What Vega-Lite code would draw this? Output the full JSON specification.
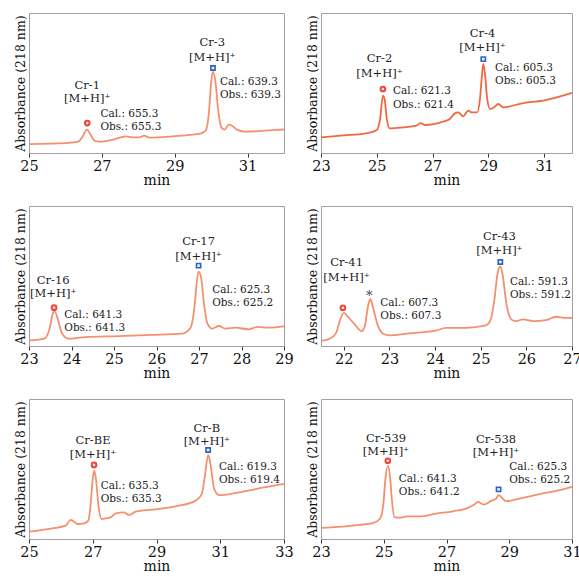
{
"$schema":"https://vega.github.io/schema/vega-lite/v6.json",
"padding":{"left":13,"top":12,"right":0,"bottom":0},
"background":"white",
"datasets":{"all":[
{"p":1,"k":"line","t":25.0,"a":6.4},{"p":1,"k":"line","t":26.03,"a":7.1},{"p":1,"k":"line","t":26.35,"a":8.1},{"p":1,"k":"line","t":26.46,"a":11.2},{"p":1,"k":"line","t":26.59,"a":16.7},{"p":1,"k":"line","t":26.68,"a":13.6},{"p":1,"k":"line","t":26.8,"a":8.8},{"p":1,"k":"line","t":26.94,"a":8.1},{"p":1,"k":"line","t":27.3,"a":9.5},{"p":1,"k":"line","t":27.66,"a":11.9},{"p":1,"k":"line","t":27.85,"a":11.2},{"p":1,"k":"line","t":28.03,"a":11.2},{"p":1,"k":"line","t":28.16,"a":12.4},{"p":1,"k":"line","t":28.3,"a":11.0},{"p":1,"k":"line","t":28.94,"a":11.9},{"p":1,"k":"line","t":29.66,"a":13.6},{"p":1,"k":"line","t":29.85,"a":16.0},{"p":1,"k":"line","t":29.94,"a":29.0},{"p":1,"k":"line","t":30.0,"a":50.5},{"p":1,"k":"line","t":30.05,"a":58.1},{"p":1,"k":"line","t":30.12,"a":50.5},{"p":1,"k":"line","t":30.19,"a":31.4},{"p":1,"k":"line","t":30.28,"a":18.3},{"p":1,"k":"line","t":30.37,"a":16.7},{"p":1,"k":"line","t":30.48,"a":20.2},{"p":1,"k":"line","t":30.57,"a":19.5},{"p":1,"k":"line","t":30.71,"a":16.7},{"p":1,"k":"line","t":30.94,"a":15.2},{"p":1,"k":"line","t":31.48,"a":16.0},{"p":1,"k":"line","t":32.0,"a":16.8},
{"p":1,"k":"circ","t":26.6,"a":21.4},{"p":1,"k":"sq","t":30.05,"a":60.7},
{"p":1,"k":"c","t":26.6,"a":48,"s":"Cr-1"},{"p":1,"k":"c","t":26.6,"a":38.6,"s":"[M+H]⁺"},{"p":1,"k":"l","t":26.96,"a":27.9,"s":"Cal.: 655.3"},{"p":1,"k":"l","t":26.96,"a":18.8,"s":"Obs.: 655.3"},
{"p":1,"k":"c","t":30.03,"a":78.5,"s":"Cr-3"},{"p":1,"k":"c","t":30.03,"a":67.9,"s":"[M+H]⁺"},{"p":1,"k":"l","t":30.24,"a":51,"s":"Cal.: 639.3"},{"p":1,"k":"l","t":30.24,"a":41.7,"s":"Obs.: 639.3"},

{"p":2,"k":"line","t":23.0,"a":11.2},{"p":2,"k":"line","t":24.02,"a":12.9},{"p":2,"k":"line","t":24.62,"a":14.0},{"p":2,"k":"line","t":25.0,"a":16.4},{"p":2,"k":"line","t":25.12,"a":24.3},{"p":2,"k":"line","t":25.22,"a":41.0},{"p":2,"k":"line","t":25.28,"a":38.6},{"p":2,"k":"line","t":25.36,"a":24.3},{"p":2,"k":"line","t":25.46,"a":17.6},{"p":2,"k":"line","t":25.94,"a":18.3},{"p":2,"k":"line","t":26.42,"a":19.5},{"p":2,"k":"line","t":26.57,"a":21.4},{"p":2,"k":"line","t":26.72,"a":20.0},{"p":2,"k":"line","t":27.38,"a":22.4},{"p":2,"k":"line","t":27.62,"a":24.3},{"p":2,"k":"line","t":27.8,"a":28.3},{"p":2,"k":"line","t":27.92,"a":29.0},{"p":2,"k":"line","t":28.1,"a":26.2},{"p":2,"k":"line","t":28.28,"a":30.2},{"p":2,"k":"line","t":28.4,"a":29.0},{"p":2,"k":"line","t":28.6,"a":29.0},{"p":2,"k":"line","t":28.7,"a":38.6},{"p":2,"k":"line","t":28.77,"a":55.2},{"p":2,"k":"line","t":28.82,"a":63.6},{"p":2,"k":"line","t":28.88,"a":56.4},{"p":2,"k":"line","t":28.96,"a":38.6},{"p":2,"k":"line","t":29.06,"a":31.4},{"p":2,"k":"line","t":29.2,"a":32.6},{"p":2,"k":"line","t":29.36,"a":35.0},{"p":2,"k":"line","t":29.53,"a":32.6},{"p":2,"k":"line","t":30.25,"a":35.7},{"p":2,"k":"line","t":30.97,"a":37.4},{"p":2,"k":"line","t":32.0,"a":42.9},
{"p":2,"k":"circ","t":25.22,"a":45.7},{"p":2,"k":"sq","t":28.82,"a":67.1},
{"p":2,"k":"c","t":25.1,"a":67,"s":"Cr-2"},{"p":2,"k":"c","t":25.1,"a":56.4,"s":"[M+H]⁺"},{"p":2,"k":"l","t":25.58,"a":44.5,"s":"Cal.: 621.3"},{"p":2,"k":"l","t":25.58,"a":34.3,"s":"Obs.: 621.4"},
{"p":2,"k":"c","t":28.79,"a":84.8,"s":"Cr-4"},{"p":2,"k":"c","t":28.79,"a":74.8,"s":"[M+H]⁺"},{"p":2,"k":"l","t":29.24,"a":60.5,"s":"Cal.: 605.3"},{"p":2,"k":"l","t":29.24,"a":51.7,"s":"Obs.: 605.3"},

{"p":3,"k":"line","t":23.0,"a":4.0},{"p":3,"k":"line","t":23.38,"a":5.5},{"p":3,"k":"line","t":23.48,"a":11.9},{"p":3,"k":"line","t":23.57,"a":23.8},{"p":3,"k":"line","t":23.61,"a":24.5},{"p":3,"k":"line","t":23.68,"a":19.0},{"p":3,"k":"line","t":23.77,"a":9.5},{"p":3,"k":"line","t":23.93,"a":5.2},{"p":3,"k":"line","t":24.32,"a":6.4},{"p":3,"k":"line","t":25.11,"a":7.1},{"p":3,"k":"line","t":25.89,"a":7.9},{"p":3,"k":"line","t":26.6,"a":8.8},{"p":3,"k":"line","t":26.8,"a":13.1},{"p":3,"k":"line","t":26.9,"a":29.8},{"p":3,"k":"line","t":26.95,"a":46.4},{"p":3,"k":"line","t":26.99,"a":53.1},{"p":3,"k":"line","t":27.05,"a":48.8},{"p":3,"k":"line","t":27.11,"a":32.1},{"p":3,"k":"line","t":27.19,"a":16.7},{"p":3,"k":"line","t":27.31,"a":12.4},{"p":3,"k":"line","t":27.47,"a":14.3},{"p":3,"k":"line","t":27.62,"a":12.4},{"p":3,"k":"line","t":27.86,"a":13.1},{"p":3,"k":"line","t":28.17,"a":11.9},{"p":3,"k":"line","t":28.37,"a":13.6},{"p":3,"k":"line","t":28.64,"a":13.1},{"p":3,"k":"line","t":29.0,"a":14.0},
{"p":3,"k":"circ","t":23.59,"a":27.4},{"p":3,"k":"sq","t":26.99,"a":57.4},
{"p":3,"k":"c","t":23.57,"a":46.5,"s":"Cr-16"},{"p":3,"k":"c","t":23.57,"a":36.9,"s":"[M+H]⁺"},{"p":3,"k":"l","t":23.83,"a":22.1,"s":"Cal.: 641.3"},{"p":3,"k":"l","t":23.83,"a":13.1,"s":"Obs.: 641.3"},
{"p":3,"k":"c","t":26.99,"a":74,"s":"Cr-17"},{"p":3,"k":"c","t":26.99,"a":63.6,"s":"[M+H]⁺"},{"p":3,"k":"l","t":27.31,"a":39.8,"s":"Cal.: 625.3"},{"p":3,"k":"l","t":27.31,"a":31.0,"s":"Obs.: 625.2"},

{"p":4,"k":"line","t":21.5,"a":3.6},{"p":4,"k":"line","t":21.73,"a":5.9},{"p":4,"k":"line","t":21.84,"a":10.0},{"p":4,"k":"line","t":21.91,"a":17.8},{"p":4,"k":"line","t":22.0,"a":23.7},{"p":4,"k":"line","t":22.09,"a":20.9},{"p":4,"k":"line","t":22.24,"a":15.4},{"p":4,"k":"line","t":22.39,"a":10.7},{"p":4,"k":"line","t":22.46,"a":14.2},{"p":4,"k":"line","t":22.53,"a":28.4},{"p":4,"k":"line","t":22.58,"a":33.6},{"p":4,"k":"line","t":22.64,"a":27.3},{"p":4,"k":"line","t":22.75,"a":14.2},{"p":4,"k":"line","t":22.86,"a":8.8},{"p":4,"k":"line","t":23.0,"a":7.6},{"p":4,"k":"line","t":23.44,"a":9.0},{"p":4,"k":"line","t":24.03,"a":11.1},{"p":4,"k":"line","t":24.24,"a":13.0},{"p":4,"k":"line","t":24.68,"a":13.0},{"p":4,"k":"line","t":25.11,"a":14.7},{"p":4,"k":"line","t":25.22,"a":19.0},{"p":4,"k":"line","t":25.3,"a":33.2},{"p":4,"k":"line","t":25.37,"a":52.1},{"p":4,"k":"line","t":25.43,"a":56.9},{"p":4,"k":"line","t":25.48,"a":50.9},{"p":4,"k":"line","t":25.56,"a":30.8},{"p":4,"k":"line","t":25.67,"a":19.0},{"p":4,"k":"line","t":25.78,"a":17.8},{"p":4,"k":"line","t":25.92,"a":19.0},{"p":4,"k":"line","t":26.14,"a":17.8},{"p":4,"k":"line","t":26.43,"a":18.5},{"p":4,"k":"line","t":26.65,"a":20.9},{"p":4,"k":"line","t":26.87,"a":20.1},{"p":4,"k":"line","t":27.0,"a":20.1},
{"p":4,"k":"circ","t":21.98,"a":27.3},{"p":4,"k":"sq","t":25.43,"a":60.0},{"p":4,"k":"star","t":22.56,"a":35.5,"s":"*"},
{"p":4,"k":"c","t":22.06,"a":59,"s":"Cr-41"},{"p":4,"k":"c","t":22.06,"a":48.6,"s":"[M+H]⁺"},{"p":4,"k":"l","t":22.8,"a":30.8,"s":"Cal.: 607.3"},{"p":4,"k":"l","t":22.8,"a":21.3,"s":"Obs.: 607.3"},
{"p":4,"k":"c","t":25.41,"a":78,"s":"Cr-43"},{"p":4,"k":"c","t":25.41,"a":68.2,"s":"[M+H]⁺"},{"p":4,"k":"l","t":25.64,"a":45.5,"s":"Cal.: 591.3"},{"p":4,"k":"l","t":25.64,"a":36.7,"s":"Obs.: 591.2"},

{"p":5,"k":"line","t":25.0,"a":5.2},{"p":5,"k":"line","t":25.73,"a":7.6},{"p":5,"k":"line","t":26.15,"a":9.5},{"p":5,"k":"line","t":26.31,"a":13.6},{"p":5,"k":"line","t":26.41,"a":12.4},{"p":5,"k":"line","t":26.52,"a":10.7},{"p":5,"k":"line","t":26.73,"a":11.2},{"p":5,"k":"line","t":26.86,"a":13.1},{"p":5,"k":"line","t":26.94,"a":26.2},{"p":5,"k":"line","t":26.99,"a":40.5},{"p":5,"k":"line","t":27.04,"a":48.8},{"p":5,"k":"line","t":27.1,"a":42.9},{"p":5,"k":"line","t":27.18,"a":23.8},{"p":5,"k":"line","t":27.27,"a":14.3},{"p":5,"k":"line","t":27.41,"a":14.8},{"p":5,"k":"line","t":27.56,"a":15.5},{"p":5,"k":"line","t":27.72,"a":18.3},{"p":5,"k":"line","t":27.98,"a":19.0},{"p":5,"k":"line","t":28.14,"a":17.1},{"p":5,"k":"line","t":28.35,"a":19.5},{"p":5,"k":"line","t":28.87,"a":21.0},{"p":5,"k":"line","t":29.6,"a":23.3},{"p":5,"k":"line","t":30.23,"a":27.4},{"p":5,"k":"line","t":30.42,"a":32.1},{"p":5,"k":"line","t":30.52,"a":45.2},{"p":5,"k":"line","t":30.62,"a":60.0},{"p":5,"k":"line","t":30.7,"a":52.4},{"p":5,"k":"line","t":30.81,"a":35.7},{"p":5,"k":"line","t":30.96,"a":31.4},{"p":5,"k":"line","t":31.49,"a":32.9},{"p":5,"k":"line","t":32.11,"a":35.7},{"p":5,"k":"line","t":33.0,"a":39.3},
{"p":5,"k":"circ","t":27.04,"a":52.9},{"p":5,"k":"sq","t":30.62,"a":63.6},
{"p":5,"k":"c","t":27.01,"a":69.8,"s":"Cr-BE"},{"p":5,"k":"c","t":27.01,"a":60.2,"s":"[M+H]⁺"},{"p":5,"k":"l","t":27.25,"a":37.6,"s":"Cal.: 635.3"},{"p":5,"k":"l","t":27.25,"a":28.6,"s":"Obs.: 635.3"},
{"p":5,"k":"c","t":30.58,"a":78.6,"s":"Cr-B"},{"p":5,"k":"c","t":30.58,"a":69.0,"s":"[M+H]⁺"},{"p":5,"k":"l","t":30.96,"a":51.2,"s":"Cal.: 619.3"},{"p":5,"k":"l","t":30.96,"a":42.2,"s":"Obs.: 619.4"},

{"p":6,"k":"line","t":23.0,"a":8.0},{"p":6,"k":"line","t":23.69,"a":8.9},{"p":6,"k":"line","t":24.22,"a":10.1},{"p":6,"k":"line","t":24.65,"a":11.3},{"p":6,"k":"line","t":24.88,"a":14.5},{"p":6,"k":"line","t":24.99,"a":25.3},{"p":6,"k":"line","t":25.05,"a":42.2},{"p":6,"k":"line","t":25.13,"a":52.3},{"p":6,"k":"line","t":25.2,"a":44.6},{"p":6,"k":"line","t":25.26,"a":27.7},{"p":6,"k":"line","t":25.34,"a":15.7},{"p":6,"k":"line","t":25.5,"a":15.2},{"p":6,"k":"line","t":25.76,"a":16.1},{"p":6,"k":"line","t":26.13,"a":16.1},{"p":6,"k":"line","t":26.67,"a":18.1},{"p":6,"k":"line","t":27.2,"a":19.8},{"p":6,"k":"line","t":27.62,"a":21.7},{"p":6,"k":"line","t":27.89,"a":24.6},{"p":6,"k":"line","t":28.0,"a":26.5},{"p":6,"k":"line","t":28.18,"a":24.6},{"p":6,"k":"line","t":28.42,"a":27.2},{"p":6,"k":"line","t":28.58,"a":28.9},{"p":6,"k":"line","t":28.66,"a":31.3},{"p":6,"k":"line","t":28.79,"a":28.9},{"p":6,"k":"line","t":28.9,"a":27.0},{"p":6,"k":"line","t":29.32,"a":28.9},{"p":6,"k":"line","t":29.96,"a":32.0},{"p":6,"k":"line","t":30.6,"a":34.9},{"p":6,"k":"line","t":31.0,"a":37.3},
{"p":6,"k":"circ","t":25.13,"a":55.9},{"p":6,"k":"sq","t":28.66,"a":35.4},
{"p":6,"k":"c","t":25.07,"a":71.6,"s":"Cr-539"},{"p":6,"k":"c","t":25.07,"a":61.9,"s":"[M+H]⁺"},{"p":6,"k":"l","t":25.48,"a":42.7,"s":"Cal.: 641.3"},{"p":6,"k":"l","t":25.48,"a":33.5,"s":"Obs.: 641.2"},
{"p":6,"k":"c","t":28.58,"a":70.9,"s":"Cr-538"},{"p":6,"k":"c","t":28.58,"a":61.4,"s":"[M+H]⁺"},{"p":6,"k":"l","t":29.0,"a":51.3,"s":"Cal.: 625.3"},{"p":6,"k":"l","t":29.0,"a":42.5,"s":"Obs.: 625.2"}
]},
"data":{"name":"all"},
"columns":2,
"bounds":"flush",
"spacing":{"row":53,"column":37},
"concat":[
{"width":255,"height":140,"transform":[{"filter":"datum.p==1"}],
 "encoding":{"x":{"field":"t","type":"quantitative","scale":{"domain":[25,32],"nice":false,"zero":false},"axis":{"values":[25,27,29,31],"title":"min"}},
  "y":{"field":"a","type":"quantitative","scale":{"domain":[0,100]},"axis":{"title":"Absorbance (218 nm)"}}},
 "layer":[
  {"transform":[{"filter":"datum.k=='line'"}],"mark":{"type":"line","color":"#f5906f","strokeWidth":1.8,"interpolate":"monotone"}},
  {"transform":[{"filter":"datum.k=='circ'"}],"mark":{"type":"point","shape":"circle","filled":true,"fill":"#ffe2dd","stroke":"#e8473a","strokeWidth":2,"size":22,"opacity":1}},
  {"transform":[{"filter":"datum.k=='sq'"}],"mark":{"type":"point","shape":"square","filled":true,"fill":"#e6eeff","stroke":"#2c63c4","strokeWidth":1.6,"size":18,"opacity":1}},
  {"transform":[{"filter":"datum.k=='c'"}],"mark":{"type":"text","align":"center","baseline":"middle","fontSize":11.5,"color":"#222"},"encoding":{"text":{"field":"s"}}},
  {"transform":[{"filter":"datum.k=='l'"}],"mark":{"type":"text","align":"left","baseline":"middle","fontSize":10.5,"color":"#222"},"encoding":{"text":{"field":"s"}}}
 ]},
{"width":251,"height":140,"transform":[{"filter":"datum.p==2"}],
 "encoding":{"x":{"field":"t","type":"quantitative","scale":{"domain":[23,32],"nice":false,"zero":false},"axis":{"values":[23,25,27,29,31],"title":"min"}},
  "y":{"field":"a","type":"quantitative","scale":{"domain":[0,100]},"axis":{"title":"Absorbance (218 nm)"}}},
 "layer":[
  {"transform":[{"filter":"datum.k=='line'"}],"mark":{"type":"line","color":"#f06842","strokeWidth":1.8,"interpolate":"monotone"}},
  {"transform":[{"filter":"datum.k=='circ'"}],"mark":{"type":"point","shape":"circle","filled":true,"fill":"#ffe2dd","stroke":"#e8473a","strokeWidth":2,"size":22,"opacity":1}},
  {"transform":[{"filter":"datum.k=='sq'"}],"mark":{"type":"point","shape":"square","filled":true,"fill":"#e6eeff","stroke":"#2c63c4","strokeWidth":1.6,"size":18,"opacity":1}},
  {"transform":[{"filter":"datum.k=='c'"}],"mark":{"type":"text","align":"center","baseline":"middle","fontSize":11.5,"color":"#222"},"encoding":{"text":{"field":"s"}}},
  {"transform":[{"filter":"datum.k=='l'"}],"mark":{"type":"text","align":"left","baseline":"middle","fontSize":10.5,"color":"#222"},"encoding":{"text":{"field":"s"}}}
 ]},
{"width":255,"height":140,"transform":[{"filter":"datum.p==3"}],
 "encoding":{"x":{"field":"t","type":"quantitative","scale":{"domain":[23,29],"nice":false,"zero":false},"axis":{"values":[23,24,25,26,27,28,29],"title":"min"}},
  "y":{"field":"a","type":"quantitative","scale":{"domain":[0,100]},"axis":{"title":"Absorbance (218 nm)"}}},
 "layer":[
  {"transform":[{"filter":"datum.k=='line'"}],"mark":{"type":"line","color":"#f5906f","strokeWidth":1.8,"interpolate":"monotone"}},
  {"transform":[{"filter":"datum.k=='circ'"}],"mark":{"type":"point","shape":"circle","filled":true,"fill":"#ffe2dd","stroke":"#e8473a","strokeWidth":2,"size":22,"opacity":1}},
  {"transform":[{"filter":"datum.k=='sq'"}],"mark":{"type":"point","shape":"square","filled":true,"fill":"#e6eeff","stroke":"#2c63c4","strokeWidth":1.6,"size":18,"opacity":1}},
  {"transform":[{"filter":"datum.k=='c'"}],"mark":{"type":"text","align":"center","baseline":"middle","fontSize":11.5,"color":"#222"},"encoding":{"text":{"field":"s"}}},
  {"transform":[{"filter":"datum.k=='l'"}],"mark":{"type":"text","align":"left","baseline":"middle","fontSize":10.5,"color":"#222"},"encoding":{"text":{"field":"s"}}}
 ]},
{"width":251,"height":140,"transform":[{"filter":"datum.p==4"}],
 "encoding":{"x":{"field":"t","type":"quantitative","scale":{"domain":[21.5,27],"nice":false,"zero":false},"axis":{"values":[22,23,24,25,26,27],"title":"min"}},
  "y":{"field":"a","type":"quantitative","scale":{"domain":[0,100]},"axis":{"title":"Absorbance (218 nm)"}}},
 "layer":[
  {"transform":[{"filter":"datum.k=='line'"}],"mark":{"type":"line","color":"#f5906f","strokeWidth":1.8,"interpolate":"monotone"}},
  {"transform":[{"filter":"datum.k=='circ'"}],"mark":{"type":"point","shape":"circle","filled":true,"fill":"#ffe2dd","stroke":"#e8473a","strokeWidth":2,"size":22,"opacity":1}},
  {"transform":[{"filter":"datum.k=='sq'"}],"mark":{"type":"point","shape":"square","filled":true,"fill":"#e6eeff","stroke":"#2c63c4","strokeWidth":1.6,"size":18,"opacity":1}},
  {"transform":[{"filter":"datum.k=='star'"}],"mark":{"type":"text","align":"center","baseline":"middle","fontSize":13,"color":"#444"},"encoding":{"text":{"field":"s"}}},
  {"transform":[{"filter":"datum.k=='c'"}],"mark":{"type":"text","align":"center","baseline":"middle","fontSize":11.5,"color":"#222"},"encoding":{"text":{"field":"s"}}},
  {"transform":[{"filter":"datum.k=='l'"}],"mark":{"type":"text","align":"left","baseline":"middle","fontSize":10.5,"color":"#222"},"encoding":{"text":{"field":"s"}}}
 ]},
{"width":255,"height":140,"transform":[{"filter":"datum.p==5"}],
 "encoding":{"x":{"field":"t","type":"quantitative","scale":{"domain":[25,33],"nice":false,"zero":false},"axis":{"values":[25,27,29,31,33],"title":"min"}},
  "y":{"field":"a","type":"quantitative","scale":{"domain":[0,100]},"axis":{"title":"Absorbance (218 nm)"}}},
 "layer":[
  {"transform":[{"filter":"datum.k=='line'"}],"mark":{"type":"line","color":"#f5906f","strokeWidth":1.8,"interpolate":"monotone"}},
  {"transform":[{"filter":"datum.k=='circ'"}],"mark":{"type":"point","shape":"circle","filled":true,"fill":"#ffe2dd","stroke":"#e8473a","strokeWidth":2,"size":22,"opacity":1}},
  {"transform":[{"filter":"datum.k=='sq'"}],"mark":{"type":"point","shape":"square","filled":true,"fill":"#e6eeff","stroke":"#2c63c4","strokeWidth":1.6,"size":18,"opacity":1}},
  {"transform":[{"filter":"datum.k=='c'"}],"mark":{"type":"text","align":"center","baseline":"middle","fontSize":11.5,"color":"#222"},"encoding":{"text":{"field":"s"}}},
  {"transform":[{"filter":"datum.k=='l'"}],"mark":{"type":"text","align":"left","baseline":"middle","fontSize":10.5,"color":"#222"},"encoding":{"text":{"field":"s"}}}
 ]},
{"width":251,"height":140,"transform":[{"filter":"datum.p==6"}],
 "encoding":{"x":{"field":"t","type":"quantitative","scale":{"domain":[23,31],"nice":false,"zero":false},"axis":{"values":[23,25,27,29,31],"title":"min"}},
  "y":{"field":"a","type":"quantitative","scale":{"domain":[0,100]},"axis":{"title":"Absorbance (218 nm)"}}},
 "layer":[
  {"transform":[{"filter":"datum.k=='line'"}],"mark":{"type":"line","color":"#f5906f","strokeWidth":1.8,"interpolate":"monotone"}},
  {"transform":[{"filter":"datum.k=='circ'"}],"mark":{"type":"point","shape":"circle","filled":true,"fill":"#ffe2dd","stroke":"#e8473a","strokeWidth":2,"size":22,"opacity":1}},
  {"transform":[{"filter":"datum.k=='sq'"}],"mark":{"type":"point","shape":"square","filled":true,"fill":"#e6eeff","stroke":"#2c63c4","strokeWidth":1.6,"size":18,"opacity":1}},
  {"transform":[{"filter":"datum.k=='c'"}],"mark":{"type":"text","align":"center","baseline":"middle","fontSize":11.5,"color":"#222"},"encoding":{"text":{"field":"s"}}},
  {"transform":[{"filter":"datum.k=='l'"}],"mark":{"type":"text","align":"left","baseline":"middle","fontSize":10.5,"color":"#222"},"encoding":{"text":{"field":"s"}}}
 ]}
],
"config":{
 "font":"DejaVu Serif",
 "text":{"font":"DejaVu Serif"},
 "view":{"stroke":"#a0a0a0","strokeWidth":1},
 "axis":{"grid":false,"labelFont":"DejaVu Serif","titleFont":"DejaVu Serif","labelFontSize":14.5,"titleFontSize":14,"titleFontWeight":"normal","labelColor":"#111","titleColor":"#111"},
 "axisX":{"domainColor":"#a0a0a0","tickColor":"#333","tickSize":4,"labelPadding":2,"titlePadding":1,"labelFlush":false,"labelOverlap":false},
 "axisY":{"labels":false,"ticks":false,"domain":false,"titlePadding":2,"titleFontSize":12.5}
}
}
